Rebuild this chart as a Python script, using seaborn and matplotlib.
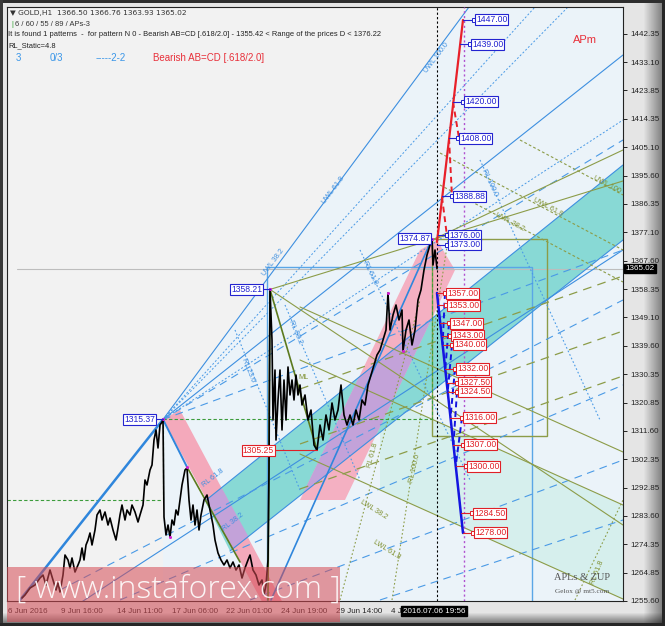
import numpy as np
import matplotlib
matplotlib.use("Agg")
import matplotlib.pyplot as plt
from matplotlib.patches import Polygon, Rectangle
import seaborn as sns

# ---------------- data (x = bar number, y = price) ----------------
bars = [15, 18, 23, 28, 33, 36, 39, 43, 46, 49, 51, 53, 56, 58, 61, 63, 65, 68, 71, 73,
        75, 77, 79, 81, 83, 85, 88, 90, 93, 95, 98, 101, 103, 106, 109, 111, 113, 115, 118, 120,
        123, 125, 128, 131, 133, 136, 138, 140, 143, 145, 147, 149, 151, 153, 155, 156, 157, 159,
        161, 163, 165, 167, 169, 171, 173, 175, 178, 180, 182, 184, 186, 188, 190, 192, 194, 197,
        200, 202, 204, 206, 208, 211, 214, 217, 220, 223, 226, 229, 232, 235, 238, 241, 243, 246,
        249, 252, 255, 257, 259, 261, 262, 263, 265, 266, 268, 269, 271, 273, 275, 277, 279, 281,
        283, 285, 287, 289, 291, 293, 295, 298, 301, 304, 307, 310, 313, 316, 319, 322, 325, 328,
        331, 334, 337, 340, 343, 346, 349, 352, 355, 358, 361, 364, 367, 370, 373, 376, 379, 381,
        383, 386, 389, 392, 395, 396, 399, 402, 405, 408, 411, 414, 417, 420, 423, 425, 426, 428,
        430]
close = [1256.57, 1257.56, 1259.86, 1260.85, 1263.15, 1264.14, 1260.85, 1265.79, 1262.50, 1259.20,
         1261.51, 1258.54, 1264.14, 1270.73, 1269.09, 1266.45, 1269.75, 1265.13, 1267.44, 1269.09,
         1273.04, 1269.09, 1274.03, 1275.67, 1277.98, 1274.03, 1278.97, 1283.91, 1285.56, 1282.26,
         1284.90, 1280.61, 1282.92, 1278.97, 1275.67, 1279.62, 1283.91, 1287.20, 1282.26, 1285.56,
         1283.91, 1287.20, 1284.90, 1281.60, 1283.91, 1287.20, 1295.44, 1293.79, 1298.73, 1300.38,
         1308.61, 1311.91, 1305.98, 1313.55, 1314.54, 1315.37, 1283.25, 1277.32, 1280.61, 1276.66,
         1282.26, 1280.61, 1285.56, 1283.91, 1288.85, 1293.79, 1298.73, 1299.39, 1288.85, 1282.26,
         1287.20, 1280.61, 1285.56, 1278.97, 1283.91, 1288.85, 1290.50, 1287.20, 1283.91, 1280.61,
         1275.67, 1271.39, 1269.09, 1267.44, 1269.09, 1266.45, 1268.43, 1265.79, 1267.44, 1263.15,
         1266.45, 1269.09, 1270.73, 1265.79, 1264.14, 1260.85, 1262.50, 1257.56, 1260.85, 1269.09,
         1298.73, 1358.21, 1341.55, 1315.20, 1331.67, 1308.61, 1321.79, 1331.67, 1311.91, 1328.38,
         1315.20, 1332.66, 1323.44, 1328.38, 1321.79, 1330.02, 1323.44, 1326.73, 1320.14, 1323.44,
         1315.20, 1318.49, 1306.97, 1305.25, 1313.55, 1308.61, 1316.85, 1311.91, 1320.80, 1315.20,
         1318.49, 1326.73, 1316.85, 1313.55, 1316.85, 1313.55, 1318.49, 1315.20, 1321.79, 1320.14,
         1326.73, 1330.02, 1333.32, 1336.61, 1338.26, 1341.55, 1344.85, 1357.04, 1344.85, 1349.79,
         1353.08, 1348.14, 1351.44, 1337.93, 1344.85, 1348.14, 1339.91, 1344.85, 1354.73, 1358.08,
         1364.61, 1369.55, 1372.85, 1374.87, 1366.26, 1371.20, 1365.02]

y_ticks = [1442.35, 1433.10, 1423.85, 1414.35, 1405.10, 1395.60, 1386.35, 1377.10, 1367.60,
           1358.35, 1349.10, 1339.60, 1330.35, 1320.85, 1311.60, 1302.35, 1292.85, 1283.60,
           1274.35, 1264.85, 1255.60]
x_tick_bars = [1, 54, 110, 165, 219, 274, 329, 384]
x_tick_labels = ["6 Jun 2016", "9 Jun 16:00", "14 Jun 11:00", "17 Jun 06:00", "22 Jun 01:00",
                 "24 Jun 19:00", "29 Jun 14:00", "4 Jul 09:00"]
bid = 1365.02
now_bar = 430
proj_bar = 457

# zigzag pivots with their boxed labels
pivot_bars = [156, 263, 310, 425]
pivot_prices = [1315.37, 1358.21, 1305.25, 1374.87]
pivot_label_bars = [148, 255, 267, 423]
pivot_colors = ["blue", "blue", "red", "blue"]

# AB=CD projection targets
up_leg_bars = [430, 456]
up_leg_prices = [1373.84, 1446.96]
up_levels = [1447.00, 1439.00, 1420.00, 1408.00, 1388.88, 1376.00, 1373.00]
up_label_bars = [467, 463, 456, 451, 445, 440, 440]
up_dash = [(446, 1419.95, 452, 1408.09), (442, 1408.09, 445, 1388.66), (435, 1388.66, 440, 1375.81)]

dn_leg_bars = [430, 456]
dn_leg_prices = [1357.04, 1277.98]
dn_levels = [1357.00, 1353.00, 1347.00, 1343.00, 1340.00, 1332.00, 1327.50, 1324.50, 1316.00,
             1307.00, 1300.00, 1284.50, 1278.00]
dn_label_bars = [438, 439, 442, 443, 445, 448, 450, 450, 455, 456, 459, 465, 466]
dn_dash = [(438, 1357, 435.6, 1340), (442, 1347, 438.3, 1332), (445, 1340, 440.7, 1324.5),
           (448, 1332, 443.5, 1316), (450, 1324.5, 446.4, 1307), (455, 1316, 448.7, 1300)]

# trend / fan lines (bar0, price0, bar1, price1[, width])
zig_blue = [(13, 1255.91, 156, 1315.37, 1.8), (156, 1315.37, 180, 1299.72, 1.4),
            (264, 1255.91, 425, 1374.87, 1.2)]
zig_olive = [(180, 1299.72, 233, 1268.43), (261, 1255.91, 263, 1358.21),
             (263, 1358.21, 310, 1305.25)]
blue_solid = [(156, 1315.37, 462, 1451.24), (156, 1315.37, 616, 1435.43),
              (198, 1288.52, 616, 1399.20), (223, 1272.05, 616, 1374.49),
              (73, 1254.92, 616, 1371.20)]
blue_long = [(156, 1315.37, 616, 1407.43), (156, 1315.37, 616, 1371.20),
             (53, 1259.20, 616, 1354.73), (113, 1255.91, 616, 1326.73),
             (243, 1255.91, 616, 1302.03), (373, 1255.91, 616, 1282.26)]
blue_short = [(156, 1315.37, 528, 1451.24), (156, 1315.37, 561, 1451.24),
              (156, 1315.37, 616, 1414.02)]
blue_dotted = [(228, 1344.85, 293, 1292.14), (278, 1353.08, 353, 1295.44),
               (353, 1371.20, 463, 1295.44), (473, 1400.85, 593, 1315.20)]
olive_solid = [(263, 1358.21, 616, 1280.61), (293, 1334.97, 616, 1287.20),
               (293, 1304.00, 616, 1256.24), (293, 1352.43, 616, 1304.66),
               (263, 1358.21, 616, 1393.93), (425, 1374.49, 616, 1404.14)]
olive_long = [(293, 1325.41, 616, 1362.64), (293, 1307.30, 616, 1344.52),
              (293, 1292.48, 616, 1329.70)]
olive_short = [(433, 1392.61, 616, 1360.66), (433, 1403.15, 616, 1371.20),
               (513, 1407.43, 616, 1389.32)]
olive_dotted = [(385, 1255.91, 441, 1374.49), (333, 1255.91, 413, 1354.73),
                (568, 1255.91, 616, 1288.85)]
green_dash = [(0, 1288.85, 156, 1288.85), (156, 1315.37, 156, 1288.85),
              (156, 1315.37, 425, 1315.37), (425, 1374.87, 425, 1315.37)]

# shaded zones
pale_blue_zone = [(156, 1315.37), (462, 1451.24), (616, 1451.24), (616, 1250), (156, 1250)]
pale_teal_zone = [(373, 1323.11), (616, 1287.20), (616, 1256.24), (373, 1292.14)]
teal_zone = [(198, 1288.52), (616, 1399.20), (616, 1374.49), (223, 1272.05)]
pink_zone_1 = [(156, 1315.37), (173, 1318.49), (285, 1249.32), (265, 1249.32)]
pink_zone_2 = [(293, 1288.85), (413, 1371.20), (430, 1374.49), (448, 1364.61), (338, 1288.85)]
purple_zone_1 = [(199.5, 1289.0), (214.5, 1292.9), (241.6, 1276.7), (226.3, 1272.8)]
purple_zone_2 = [(351.9, 1329.3), (424.7, 1348.6), (368.6, 1309.9), (296.3, 1291.1)]
blue_box = (260, 1250, 525, 1365.60)
olive_box = (425, 1309.93, 540, 1374.82)

marks_x = [156, 163, 180, 263, 381, 396, 425]
marks_y = [1315.37, 1276.66, 1299.72, 1358.21, 1357.04, 1337.93, 1374.87]

# line captions: text, bar, price, angle, colour key
captions = [("UWL 38.2", 266, 1367.25, 53, "b"), ("UWL 61.8", 326, 1390.96, 53, "b"),
            ("UWL 100.0", 430, 1434.45, 53, "b"), ("RL 23.6", 241, 1331.67, -68, "b"),
            ("RL 38.2", 288, 1344.19, -67, "b"), ("RL 61.8", 363, 1363.62, -64, "b"),
            ("RL 100.0", 483, 1393.27, -65, "b"), ("RL 61.8", 206, 1296.10, 38, "b"),
            ("RL 38.2", 226, 1281.60, 38, "b"), ("UWL 38.2", 503, 1380.42, -28, "o"),
            ("UWL 61.8", 541, 1385.36, -28, "o"), ("UWL 100", 600, 1392.61, -28, "o"),
            ("ML", 296, 1329.04, 0, "o"), ("RL 61.8", 366, 1303.68, 75, "o"),
            ("RL 100.0", 408, 1299.39, 77, "o"), ("LWL 38.2", 367, 1285.56, -32, "o"),
            ("LWL 61.8", 380, 1272.38, -32, "o"), ("RL 61.8", 590, 1265.0, 68, "o")]

# ---------------- styling ----------------
sns.set_style("white")
plt.rcParams["font.family"] = ["Liberation Sans", "DejaVu Sans"]

W, H = 665, 626
C_BLUE = "#3d8fe0"
C_LBLUE = "#4a9ae6"
C_OLIVE = "#8c9c48"
C_DOLIVE = "#5c7a1e"
C_LBL_B = "#2323d0"
C_LBL_R = "#e02027"

fig = plt.figure(figsize=(W / 100, H / 100), dpi=100)

# window frame / bevel
img = np.full((H, W, 3), 0.90)
xs = np.arange(W)
shade_r = np.clip((xs - 643) / 19.0, 0, 1)
img *= (1 - 0.45 * shade_r)[None, :, None]
ys = np.arange(H)
shade_b = np.clip((ys - 612) / 11.0, 0, 1)
img *= (1 - 0.5 * shade_b)[:, None, None]
img[:3, :] = 0.18
img[:, :3] = 0.22
img[-3:, :] = 0.15
img[:, -3:] = 0.15
bg = fig.add_axes([0, 0, 1, 1])
bg.imshow(img, aspect="auto", interpolation="bilinear")
bg.axis("off")
bg.set_zorder(-5)

ax = fig.add_axes([7 / W, 1 - 601 / H, 616 / W, 594 / H])
ax.set_facecolor("#f2f2f2")
ax.set_xlim(0, 616)
ax.set_ylim(1255.58, 1451.24)


def poly(pts, color, z, alpha=1.0):
    ax.add_patch(Polygon(pts, closed=True, facecolor=color, edgecolor="none", alpha=alpha, zorder=z))


def segs(lines, **kw):
    for s in lines:
        k = dict(kw)
        if len(s) > 4:
            k["lw"] = s[4]
        ax.plot([s[0], s[2]], [s[1], s[3]], **k)


poly(pale_blue_zone, "#ebf3f9", 0.3)
poly(pale_teal_zone, "#d6efed", 0.4)
poly(teal_zone, "#88d9d5", 0.5)
poly(pink_zone_1, "#f4a9bb", 0.6)
poly(pink_zone_2, "#f4b0c2", 0.6)
poly(purple_zone_1, "#c3a2d9", 0.7)
poly(purple_zone_2, "#c3a2d9", 0.7)

ax.add_patch(Rectangle((blue_box[0], blue_box[1]), blue_box[2] - blue_box[0], blue_box[3] - blue_box[1],
                       fill=False, edgecolor="#5aa6e6", lw=1.0, zorder=2))
ax.add_patch(Rectangle((olive_box[0], olive_box[1]), olive_box[2] - olive_box[0], olive_box[3] - olive_box[1],
                       fill=False, edgecolor=C_OLIVE, lw=1.0, zorder=2))

ax.plot([10, 616], [bid, bid], color="#bdbdbd", lw=0.8, zorder=1)

segs(blue_solid, color=C_BLUE, lw=0.8, zorder=2)
segs(blue_long, color=C_LBLUE, lw=0.8, dashes=(7, 5), zorder=2)
segs(blue_short, color=C_LBLUE, lw=0.7, dashes=(2, 2), zorder=2)
segs(blue_dotted, color=C_LBLUE, lw=0.8, dashes=(1.5, 2), zorder=2)
segs(olive_solid, color=C_OLIVE, lw=0.8, zorder=2)
segs(olive_long, color=C_OLIVE, lw=0.9, dashes=(7, 5), zorder=2)
segs(olive_short, color=C_OLIVE, lw=0.8, dashes=(2.5, 2), zorder=2)
segs(olive_dotted, color=C_OLIVE, lw=0.8, dashes=(1.5, 2), zorder=2)
segs(green_dash, color="#3c9c3c", lw=0.8, dashes=(3, 2), zorder=2)
segs(zig_blue, color="#2f86dc", zorder=3)
segs(zig_olive, color=C_DOLIVE, lw=1.2, zorder=3)

ax.axvline(now_bar, color="black", lw=0.8, dashes=(2, 2), zorder=3)
ax.axvline(proj_bar, color="#b050d0", lw=1.0, dashes=(1.5, 2), zorder=3)

for txt, bx, py, ang, ck in captions:
    ax.text(bx, py, txt, rotation=ang, rotation_mode="anchor", ha="center", va="center",
            fontsize=5.2, color=C_BLUE if ck == "b" else "#7f9030", zorder=3)

# price path
sns.lineplot(x=bars, y=close, ax=ax, color="black", linewidth=1.2, estimator=None,
             sort=False, legend=False, zorder=6)
ax.scatter(marks_x, marks_y, s=5, color="#d020d0", zorder=7, linewidths=0)

# projections
ax.plot(up_leg_bars, up_leg_prices, color="#e8202a", lw=1.6, zorder=7)
segs(up_dash, color="#e8202a", lw=1.4, dashes=(3, 2), zorder=7)
ax.plot(dn_leg_bars, dn_leg_prices, color="#1414e0", lw=1.8, zorder=7)
segs(dn_dash, color="#1414e0", lw=1.4, dashes=(3, 2), zorder=7)


def tag(x, y, s, col, ha="left"):
    ax.text(x, y, s, ha=ha, va="center", fontsize=6.2, color=col, zorder=9,
            bbox=dict(boxstyle="square,pad=0.12", fc="white", ec=col, lw=0.8))


for lvl, lb in zip(up_levels, up_label_bars):
    x0 = np.interp(lvl, up_leg_prices, up_leg_bars)
    ax.plot([x0, lb], [lvl, lvl], color=C_LBL_B, lw=0.8, zorder=8)
    ax.plot(lb, lvl, marker="s", ms=2.2, mfc="white", mec=C_LBL_B, mew=0.7, zorder=8)
    tag(lb + 2, lvl, f"{lvl:.2f}", C_LBL_B)

for lvl, lb in zip(dn_levels, dn_label_bars):
    x0 = np.interp(lvl, dn_leg_prices[::-1], dn_leg_bars[::-1])
    ax.plot([x0, lb], [lvl, lvl], color=C_LBL_R, lw=0.8, zorder=8)
    ax.plot(lb, lvl, marker="s", ms=2.2, mfc="white", mec=C_LBL_R, mew=0.7, zorder=8)
    tag(lb + 2, lvl, f"{lvl:.2f}", C_LBL_R)

for pb, pp, lb, pc in zip(pivot_bars, pivot_prices, pivot_label_bars, pivot_colors):
    col = C_LBL_B if pc == "blue" else C_LBL_R
    ax.plot([lb, pb], [pp, pp], color=col, lw=0.8, zorder=8)
    tag(lb, pp, f"{pp:.2f}", col, ha="right" if lb < pb else "left")

# axes / ticks
ax.yaxis.tick_right()
ax.set_yticks(y_ticks)
ax.set_yticklabels([f"{v:.2f}" for v in y_ticks])
ax.set_xticks(x_tick_bars)
ax.set_xticklabels(x_tick_labels)
for lbl in ax.get_xticklabels():
    lbl.set_ha("left")
ax.tick_params(axis="both", labelsize=5.8, length=3, width=0.7, pad=2, colors="#222222",
               direction="out")
for sp in ax.spines.values():
    sp.set_color("#222222")
    sp.set_linewidth(0.8)
ax.set_xlabel("")
ax.set_ylabel("")

ax.text(1.004, bid, f"{bid:.2f}", transform=ax.get_yaxis_transform(), ha="left", va="center",
        fontsize=5.8, color="white", zorder=10, clip_on=False,
        bbox=dict(boxstyle="square,pad=0.15", fc="black", ec="black"))
ax.text(396, -0.017, "2016.07.06 19:56", transform=ax.get_xaxis_transform(), ha="left",
        va="center", fontsize=5.8, color="white", zorder=10, clip_on=False,
        bbox=dict(boxstyle="square,pad=0.2", fc="black", ec="black"))

# header text
fx = lambda px: px / W
fy = lambda py: 1 - py / H
fig.text(fx(10), fy(13), "\u25bc GOLD,H1  1366.50 1366.76 1363.93 1365.02", fontsize=5.4,
         color="#333333", va="center", family=["DejaVu Sans"])
fig.text(fx(11), fy(24), "|", fontsize=5.4, color="#2ca02c", va="center")
fig.text(fx(15), fy(24), "6 / 60 / 55 / 89 / APs-3", fontsize=5.4, color="#333333", va="center")
fig.text(fx(8), fy(35), "It is found 1 patterns  -  for pattern N 0 - Bearish AB=CD [.618/2.0] - "
         "1355.42 < Range of the prices D < 1376.22", fontsize=5.4, color="#222222", va="center")
fig.text(fx(8), fy(46), "RL_Static=4.8", fontsize=5.4, color="#222222", va="center")
fig.text(fx(16), fy(58), "3", fontsize=7, color="#3a96e8", va="center")
fig.text(fx(50), fy(58), "0/3", fontsize=7, color="#3a96e8", va="center")
fig.text(fx(96), fy(58), "-----2-2", fontsize=7, color="#3a96e8", va="center")
fig.text(fx(153), fy(58), "Bearish AB=CD [.618/2.0]", fontsize=7, color="#e8303a", va="center")
fig.text(fx(573), fy(40), "APm", fontsize=8, color="#e8303a", va="center")
fig.text(fx(582), fy(578), "APLs & ZUP", fontsize=7.5, color="#555555", ha="center", va="center",
         family=["Liberation Serif", "DejaVu Serif"])
fig.text(fx(582), fy(591), "Gelox @ mt5.com", fontsize=5.2, color="#555555", ha="center",
         va="center", family=["Liberation Serif", "DejaVu Serif"])

# watermark
fig.patches.append(Rectangle((fx(7), fy(622)), (340 - 7) / W, (622 - 567) / H,
                             transform=fig.transFigure, facecolor="#d64b54", alpha=0.55,
                             edgecolor="none", zorder=20))
fig.text(fx(178), fy(590), "[ www.instaforex.com ]", fontsize=23, color="white", alpha=0.9,
         ha="center", va="center", family=["Open Sans", "DejaVu Sans"], fontweight="light",
         zorder=21)

fig.savefig("out.png", dpi=100)
